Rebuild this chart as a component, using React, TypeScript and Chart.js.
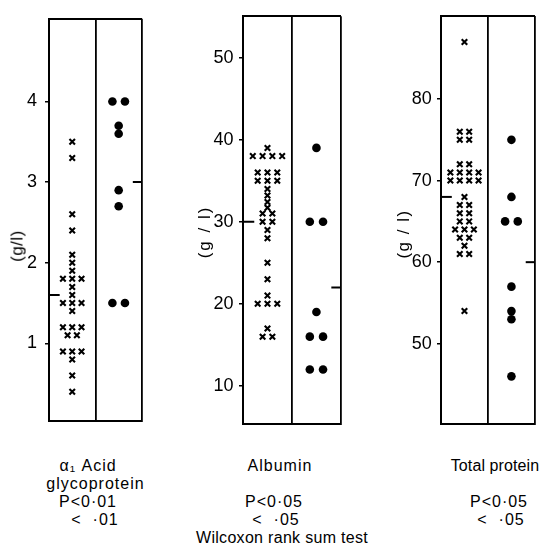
import React, { useEffect, useRef } from "react";
import { Chart, registerables } from "chart.js";

Chart.register(...registerables);

// ---- Panel 1: α1 acid glycoprotein (g/l)
const AGP_CROSSES = [3.5, 3.3, 2.6, 2.4, 2.1, 2.0, 1.9, 1.8, 1.8, 1.8, 1.7, 1.6, 1.5, 1.5, 1.5, 1.4, 1.2, 1.2, 1.2, 1.1, 1.1, 0.9, 0.9, 0.9, 0.8, 0.6, 0.4];
const AGP_DOTS = [4.0, 4.0, 3.7, 3.6, 2.9, 2.7, 1.5, 1.5];
const AGP_MEANS = [1.6, 3.0];
const AGP_TICKS = [1, 2, 3, 4];
const AGP_RANGE = [0.034, 5.026];

// ---- Panel 2: Albumin (g/l)
const ALB_CROSSES = [39, 38, 38, 38, 38, 36, 36, 36, 35, 35, 35, 34, 33.2, 32.4, 31.7, 31, 31, 30, 30, 29, 28, 25, 23, 21, 20, 20, 20, 17, 16, 16];
const ALB_DOTS = [39, 30, 30, 19, 16, 16, 12, 12];
const ALB_MEANS = [30, 22];
const ALB_TICKS = [10, 20, 30, 40, 50];
const ALB_RANGE = [5.39, 55.04];

// ---- Panel 3: Total protein (g/l)
const TP_CROSSES = [87, 76, 76, 75, 75, 72, 72, 71, 71, 71, 71, 70, 70, 70, 70, 68, 67, 67, 66, 66, 65, 65, 64, 64, 64, 63, 63, 62, 61, 61, 54];
const TP_DOTS = [75, 68, 65, 65, 57, 54, 53, 46];
const TP_MEANS = [68, 60];
const TP_TICKS = [50, 60, 70, 80];
const TP_RANGE = [40.17, 90.17];

const Y_TITLES = ["(g/l)", "(g / l)", "(g / l)"];

const FONT = "'Liberation Sans', Arial, sans-serif";
const TICK_FONT = "'Liberation Sans Narrow', 'Liberation Sans', Arial, sans-serif";

const CROSS_STEP = 0.2;
const DOT_STEP = 0.27;
const MEAN_LEN = 0.23;

function spread(values: number[], center: number, step: number) {
  const counts = new Map<number, number>();
  values.forEach((v) => counts.set(v, (counts.get(v) || 0) + 1));
  const seen = new Map<number, number>();
  return values.map((v) => {
    const n = counts.get(v) as number;
    const i = seen.get(v) || 0;
    seen.set(v, i + 1);
    return { x: center + (i - (n - 1) / 2) * step, y: v };
  });
}

type PanelDef = {
  crosses: number[];
  dots: number[];
  means: number[];
  ticks: number[];
  range: number[];
  left: number;
  axisW: number;
  width: number;
  padTop: number;
  padBottom: number;
  padRight: number;
  tickPad: number;
};

const CANVAS_H = 440;

const PANELS: PanelDef[] = [
  { crosses: AGP_CROSSES, dots: AGP_DOTS, means: AGP_MEANS, ticks: AGP_TICKS, range: AGP_RANGE, left: 0, axisW: 49, width: 148, padTop: 13, padBottom: 12, padRight: 5, tickPad: 8 },
  { crosses: ALB_CROSSES, dots: ALB_DOTS, means: ALB_MEANS, ticks: ALB_TICKS, range: ALB_RANGE, left: 170, axisW: 73, width: 177, padTop: 14, padBottom: 12.3, padRight: 5, tickPad: 5.5 },
  { crosses: TP_CROSSES, dots: TP_DOTS, means: TP_MEANS, ticks: TP_TICKS, range: TP_RANGE, left: 370, axisW: 71, width: 171, padTop: 13.3, padBottom: 11.7, padRight: 1, tickPad: 5.3 },
];

function Panel({ def }: { def: PanelDef }) {
  const ref = useRef<HTMLCanvasElement | null>(null);
  useEffect(() => {
    if (!ref.current) return;
    const chart = new Chart(ref.current, {
      type: "scatter",
      data: {
        datasets: [
          {
            type: "scatter",
            data: spread(def.crosses, -0.5, CROSS_STEP),
            pointStyle: "crossRot",
            pointRadius: 3.9,
            borderColor: "#000",
            borderWidth: 2.1,
            backgroundColor: "#000",
          },
          {
            type: "scatter",
            data: spread(def.dots, 0.5, DOT_STEP),
            pointStyle: "circle",
            pointRadius: 4.3,
            borderWidth: 0,
            backgroundColor: "#000",
          },
          {
            type: "line",
            data: [
              { x: -1, y: def.means[0] },
              { x: -1 + MEAN_LEN, y: def.means[0] },
            ],
            borderColor: "#000",
            borderWidth: 2,
            pointRadius: 0,
          },
          {
            type: "line",
            data: [
              { x: 1 - MEAN_LEN * 0.85, y: def.means[1] },
              { x: 1, y: def.means[1] },
            ],
            borderColor: "#000",
            borderWidth: 2,
            pointRadius: 0,
          },
        ],
      } as any,
      options: {
        responsive: false,
        animation: false,
        events: [],
        devicePixelRatio: 1,
        layout: {
          padding: { top: def.padTop, bottom: def.padBottom, left: 0, right: def.padRight },
        },
        plugins: {
          legend: { display: false },
          tooltip: { enabled: false },
          title: { display: false },
        },
        scales: {
          x: {
            type: "linear",
            position: "bottom",
            min: -1,
            max: 1,
            ticks: { display: false, stepSize: 1 },
            grid: { display: true, drawTicks: false, color: "#000", lineWidth: 1.8 },
            border: { display: true, color: "#000", width: 2 },
            afterFit: (s: any) => {
              s.height = 0;
            },
          },
          xTop: {
            type: "linear",
            position: "top",
            min: -1,
            max: 1,
            ticks: { display: false },
            grid: { display: false },
            border: { display: true, color: "#000", width: 2 },
            afterFit: (s: any) => {
              s.height = 0;
            },
          },
          y: {
            type: "linear",
            position: "left",
            min: def.range[0],
            max: def.range[1],
            afterBuildTicks: (s: any) => {
              s.ticks = def.ticks.map((v) => ({ value: v }));
            },
            ticks: {
              color: "#000",
              padding: def.tickPad,
              font: { family: TICK_FONT, size: 18 },
            },
            grid: {
              drawOnChartArea: false,
              drawTicks: true,
              tickLength: 4,
              color: "#000",
              lineWidth: 1.5,
            },
            border: { display: true, color: "#000", width: 2 },
            afterFit: (s: any) => {
              s.width = def.axisW;
            },
          },
        },
      } as any,
    });
    return () => chart.destroy();
  }, [def]);
  return (
    <canvas
      ref={ref}
      width={def.width}
      height={CANVAS_H}
      style={{ position: "absolute", left: def.left, top: 0, width: def.width, height: CANVAS_H }}
    />
  );
}

type TextDef = { text: string; x: number; y: number; size?: number; ls?: number };

const BOTTOM_TEXT: TextDef[] = [
  { text: "α₁ Acid", x: 88, y: 466 },
  { text: "glycoprotein", x: 95.5, y: 484 },
  { text: "P<0·01", x: 88, y: 502 },
  { text: "<  ·01", x: 95, y: 519.5 },
  { text: "Albumin", x: 280, y: 466 },
  { text: "P<0·05", x: 274, y: 502 },
  { text: "<  ·05", x: 276, y: 519.5 },
  { text: "Total protein", x: 495, y: 466, ls: 0.1 },
  { text: "P<0·05", x: 499, y: 502 },
  { text: "<  ·05", x: 501, y: 519.5 },
  { text: "Wilcoxon rank sum test", x: 282, y: 537.5, ls: 0.3 },
];

const Y_TITLE_POS = [
  { x: 16.7, y: 246, ls: 0.5 },
  { x: 203.5, y: 231.7, ls: 2 },
  { x: 403.3, y: 234, ls: 1.5 },
];

export default function App() {
  return (
    <div style={{ position: "absolute", left: 0, top: 0, width: 541, height: 549, background: "#fff", overflow: "hidden" }}>
      {PANELS.map((p, i) => (
        <Panel key={i} def={p} />
      ))}
      {Y_TITLES.map((t, i) => (
        <div
          key={"yt" + i}
          style={{
            position: "absolute",
            left: Y_TITLE_POS[i].x,
            top: Y_TITLE_POS[i].y,
            transform: "translate(-50%, -50%) rotate(-90deg)",
            fontFamily: FONT,
            fontSize: 17,
            letterSpacing: Y_TITLE_POS[i].ls,
            whiteSpace: "pre",
            color: "#000",
            lineHeight: 1,
          }}
        >
          {t}
        </div>
      ))}
      {BOTTOM_TEXT.map((t, i) => (
        <div
          key={"bt" + i}
          style={{
            position: "absolute",
            left: t.x,
            top: t.y,
            transform: "translate(-50%, -50%)",
            fontFamily: FONT,
            fontSize: t.size || 16,
            letterSpacing: t.ls ?? 1,
            whiteSpace: "pre",
            color: "#000",
            lineHeight: 1,
          }}
        >
          {t.text}
        </div>
      ))}
    </div>
  );
}
